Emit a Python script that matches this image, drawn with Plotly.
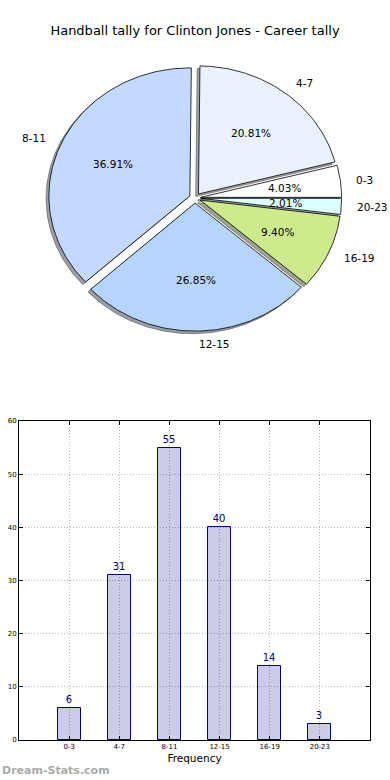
import numpy as np
import plotly.graph_objects as go

# ---------------- data ----------------
categories = ["0-3", "4-7", "8-11", "12-15", "16-19", "20-23"]
counts = [6, 31, 55, 40, 14, 3]
slice_colors = ["#ffffff", "#eaf1ff", "#c5d8ff", "#b5d5ff", "#cfea8d", "#dbffff"]
explode = [0.04, 0.04, 0.04, 0.04, 0.04, 0.04]
y_ticks = [0, 10, 20, 30, 40, 50, 60]
title_text = "Handball tally for Clinton Jones - Career tally"
xlabel_text = "Frequency"
watermark = "Dream-Stats.com"

W, H = 390, 780
fig = go.Figure()

# ---------------- pie (matplotlib-style, elliptical, exploded, shadow) ----------------
def hex_rgb(h):
    h = h.lstrip("#")
    return tuple(int(h[i:i + 2], 16) for i in (0, 2, 4))

total = float(sum(counts))
theta1 = 0.0
wedges = []
for cat, v, col, ex in zip(categories, counts, slice_colors, explode):
    theta2 = theta1 + 360.0 * v / total
    mid = np.deg2rad((theta1 + theta2) / 2)
    cx, cy = ex * np.cos(mid), ex * np.sin(mid)
    n = max(int(abs(theta2 - theta1) / 1.0) + 2, 3)
    t = np.deg2rad(np.linspace(theta1, theta2, n))
    xs = np.concatenate([[cx], cx + np.cos(t), [cx]])
    ys = np.concatenate([[cy], cy + np.sin(t), [cy]])
    wedges.append(dict(cat=cat, v=v, col=col, mid=mid, cx=cx, cy=cy, xs=xs, ys=ys))
    theta1 = theta2

# shadows first (below all wedges)
for w in wedges:
    r, g, b = hex_rgb(w["col"])
    sc = "rgba(%d,%d,%d,0.5)" % (r * 0.3, g * 0.3, b * 0.3)
    fig.add_trace(go.Scatter(x=w["xs"] - 0.02, y=w["ys"] - 0.02, mode="lines", fill="toself",
                             fillcolor=sc, line=dict(color=sc, width=1),
                             xaxis="x2", yaxis="y2", hoverinfo="skip", showlegend=False))
for w in wedges:
    fig.add_trace(go.Scatter(x=w["xs"], y=w["ys"], mode="lines", fill="toself",
                             fillcolor=w["col"], line=dict(color="black", width=0.8),
                             xaxis="x2", yaxis="y2", name=w["cat"], showlegend=False))

annotations = []
for w in wedges:
    # category label at labeldistance 1.1
    xt = w["cx"] + 1.1 * np.cos(w["mid"])
    yt = w["cy"] + 1.1 * np.sin(w["mid"])
    annotations.append(dict(x=xt, y=yt, xref="x2", yref="y2", text=w["cat"], showarrow=False,
                            xanchor="left" if xt > 0 else "right", yanchor="middle",
                            font=dict(family="DejaVu Sans", size=10.5, color="black")))
    # percentage at pctdistance 0.6
    xp = w["cx"] + 0.6 * np.cos(w["mid"])
    yp = w["cy"] + 0.6 * np.sin(w["mid"])
    annotations.append(dict(x=xp, y=yp, xref="x2", yref="y2",
                            text="%1.2f%%" % (100.0 * w["v"] / total), showarrow=False,
                            xanchor="center", yanchor="middle",
                            font=dict(family="DejaVu Sans", size=10.5, color="black")))

# ---------------- bar chart ----------------
fig.add_trace(go.Bar(x=categories, y=counts, width=0.46,
                     marker=dict(color="rgba(0,0,128,0.2)", line=dict(color="#000080", width=1)),
                     text=[str(c) for c in counts], textposition="outside",
                     textfont=dict(family="DejaVu Sans", size=10, color="#000080"),
                     cliponaxis=False, showlegend=False, xaxis="x", yaxis="y"))

annotations.append(dict(x=0, y=1 - 770 / H, xref="paper", yref="paper", text=watermark,
                        showarrow=False, xanchor="left", yanchor="middle",
                        font=dict(family="DejaVu Sans", size=11, color="#aaaaaa", weight="bold")))

# pixel geometry
pie_cx, pie_cy = 195.0, 198.0   # px from left/top
rx, ry = 141.0, 128.0            # px per data unit
pie_top, pie_bot = 0.0, 390.0

grid_style = dict(showgrid=True, gridcolor="#b8b8b8", griddash="1px,2px", gridwidth=1)

fig.update_layout(
    width=W, height=H, margin=dict(l=0, r=0, t=0, b=0, autoexpand=False),
    paper_bgcolor="white", plot_bgcolor="white",
    title=dict(text=title_text, x=0.5, xanchor="center", y=1 - 30 / H, yanchor="middle",
               font=dict(family="DejaVu Sans", size=13, color="black")),
    font=dict(family="DejaVu Sans", color="black"),
    annotations=annotations,
    bargap=0,
    xaxis2=dict(domain=[0, 1], range=[-pie_cx / rx, (W - pie_cx) / rx], visible=False,
                fixedrange=True, anchor="y2", automargin=False),
    yaxis2=dict(domain=[1 - pie_bot / H, 1 - pie_top / H],
                range=[-(pie_bot - pie_cy) / ry, (pie_cy - pie_top) / ry], visible=False,
                fixedrange=True, anchor="x2", automargin=False),
    xaxis=dict(domain=[19 / W, 370 / W], range=[-1, 6], anchor="y", automargin=False,
               showline=True, mirror="ticks", linecolor="black", linewidth=1,
               ticks="inside", ticklen=4, tickcolor="black",
               tickfont=dict(size=7, color="black"),
               title=dict(text=xlabel_text, font=dict(size=10.5, color="black"), standoff=4),
               **grid_style),
    yaxis=dict(domain=[1 - 740 / H, 1 - 421 / H], range=[0, 60], tickvals=y_ticks, anchor="x",
               automargin=False,
               showline=True, mirror="ticks", linecolor="black", linewidth=1,
               ticks="inside", ticklen=4, tickcolor="black",
               tickfont=dict(size=7, color="black"), zeroline=False,
               **grid_style),
)

fig.write_html("out.html", config={"displayModeBar": False},
               post_script="document.body.style.margin='0';document.body.style.overflow='hidden';")
